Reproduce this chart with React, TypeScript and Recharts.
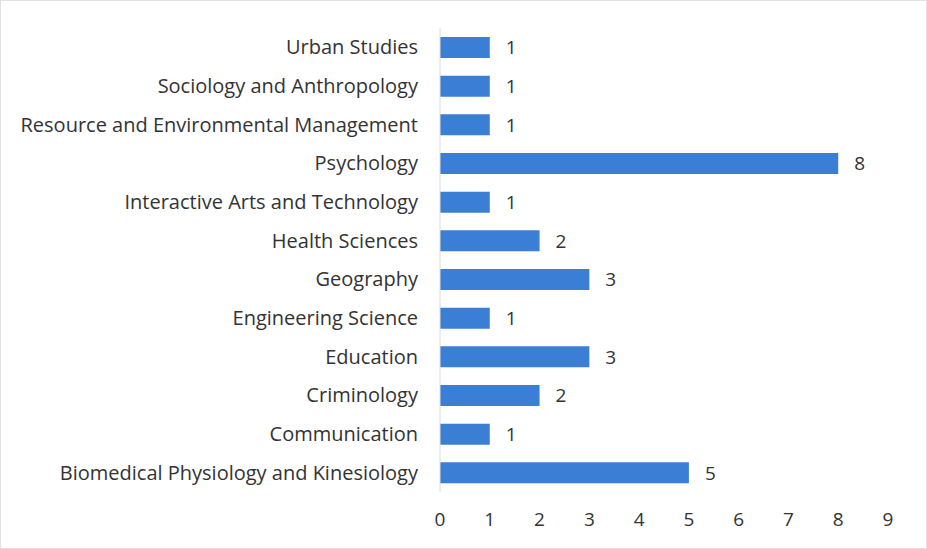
import { Bar, BarChart, LabelList, XAxis, YAxis } from 'recharts';

const departments = [
  'Urban Studies',
  'Sociology and Anthropology',
  'Resource and Environmental Management',
  'Psychology',
  'Interactive Arts and Technology',
  'Health Sciences',
  'Geography',
  'Engineering Science',
  'Education',
  'Criminology',
  'Communication',
  'Biomedical Physiology and Kinesiology'
];
const counts = [1, 1, 1, 8, 1, 2, 3, 1, 3, 2, 1, 5];
const xTicks = [0, 1, 2, 3, 4, 5, 6, 7, 8, 9];

const data = departments.map((name, i) => ({ name, count: counts[i] }));

const font = '"Open Sans", Lato, sans-serif';

export default function App() {
  return (
    <div
      style={{
        position: 'absolute',
        left: 0,
        top: 0,
        width: 925,
        height: 547,
        border: '1px solid #e2e2e2',
        background: '#fff',
        fontFamily: font
      }}
    >
      <BarChart
        width={925}
        height={547}
        data={data}
        layout='vertical'
        margin={{ top: 27, right: 38, bottom: 26, left: 0 }}
      >
        <XAxis
          type='number'
          domain={[0, 9]}
          ticks={xTicks}
          axisLine={false}
          tickLine={false}
          tickSize={0}
          tickMargin={21}
          tick={{ fill: '#333', fontSize: 19, fontFamily: font }}
        />
        <YAxis
          type='category'
          dataKey='name'
          width={439}
          axisLine={{ stroke: '#dcdcdc' }}
          tickLine={false}
          tickSize={0}
          tickMargin={22}
          interval={0}
          tick={{ fill: '#333', fontSize: 20, fontFamily: font }}
        />
        <Bar dataKey='count' fill='#3a7fd5' barSize={21} isAnimationActive={false}>
          <LabelList
            dataKey='count'
            position='right'
            offset={16}
            style={{ fill: '#333', fontSize: 19, fontFamily: font }}
          />
        </Bar>
      </BarChart>
    </div>
  );
}
